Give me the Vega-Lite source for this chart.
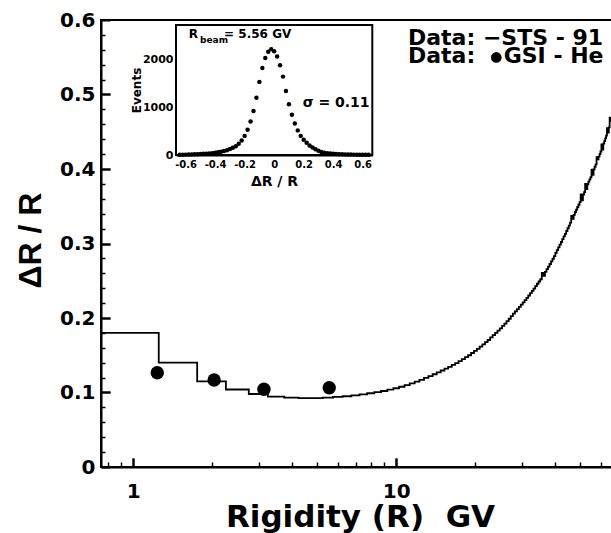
{
  "$schema": "https://vega.github.io/schema/vega-lite/v6.json",
  "width": 511,
  "height": 447,
  "autosize": {"type": "none"},
  "padding": {"left": 101, "top": 20, "right": 0, "bottom": 66},
  "background": "white",
  "config": {
    "view": {"stroke": "black", "strokeWidth": 2},
    "axis": {
      "grid": false,
      "domainColor": "black",
      "domainWidth": 2,
      "tickColor": "black",
      "tickWidth": 2,
      "labelColor": "black",
      "titleColor": "black",
      "labelFont": "DejaVu Sans",
      "labelFontWeight": "bold",
      "titleFont": "DejaVu Sans",
      "titleFontWeight": "bold",
      "labelFlush": false,
      "labelOverlap": false,
      "labelBound": false,
      "zindex": 1
    }
  },
  "layer": [
    {
      "layer": [
        {
          "data": {"values": [
            {"r":0.75,"v":0.18},{"r":1.25,"v":0.14},{"r":1.75,"v":0.115},{"r":2.25,"v":0.104},{"r":2.75,"v":0.098},
            {"r":3.25,"v":0.0945},{"r":3.75,"v":0.093},{"r":4.25,"v":0.0925},{"r":4.75,"v":0.0925},{"r":5.25,"v":0.093},
            {"r":5.75,"v":0.094},{"r":6.25,"v":0.095},{"r":6.75,"v":0.0962},{"r":7.25,"v":0.0975},{"r":7.75,"v":0.099},
            {"r":8.25,"v":0.1005},{"r":8.75,"v":0.102},{"r":9.25,"v":0.1038},{"r":9.75,"v":0.1057},{"r":10.25,"v":0.1077},
            {"r":10.75,"v":0.110},{"r":11.25,"v":0.1122},{"r":11.75,"v":0.1145},{"r":12.25,"v":0.117},{"r":12.75,"v":0.1195},
            {"r":13.25,"v":0.122},{"r":13.75,"v":0.1245},{"r":14.25,"v":0.127},{"r":14.75,"v":0.1295},{"r":15.25,"v":0.132},
            {"r":15.75,"v":0.1345},{"r":16.25,"v":0.137},{"r":16.75,"v":0.1395},{"r":17.25,"v":0.142},{"r":17.75,"v":0.1448},
            {"r":18.25,"v":0.1475},{"r":18.75,"v":0.150},{"r":19.25,"v":0.153},{"r":19.75,"v":0.1558},{"r":20.25,"v":0.1585},
            {"r":20.75,"v":0.1615},{"r":21.25,"v":0.1645},{"r":21.75,"v":0.1675},{"r":22.25,"v":0.1705},{"r":22.75,"v":0.174},
            {"r":23.25,"v":0.177},{"r":23.75,"v":0.180},{"r":24.25,"v":0.183},{"r":24.75,"v":0.1862},{"r":25.25,"v":0.1895},
            {"r":25.75,"v":0.1925},{"r":26.25,"v":0.1958},{"r":26.75,"v":0.199},{"r":27.25,"v":0.2025},{"r":27.75,"v":0.206},
            {"r":28.25,"v":0.209},{"r":28.75,"v":0.212},{"r":29.25,"v":0.215},{"r":29.75,"v":0.218},{"r":30.25,"v":0.221},
            {"r":30.75,"v":0.224},{"r":31.25,"v":0.227},{"r":31.75,"v":0.2302},{"r":32.25,"v":0.2333},{"r":32.75,"v":0.2365},
            {"r":33.25,"v":0.2395},{"r":33.75,"v":0.2428},{"r":34.25,"v":0.246},{"r":34.75,"v":0.249},{"r":35.25,"v":0.252},
            {"r":35.75,"v":0.2605},{"r":36.25,"v":0.2565},{"r":36.75,"v":0.262},{"r":37.25,"v":0.2655},{"r":37.75,"v":0.269},
            {"r":38.25,"v":0.2725},{"r":38.75,"v":0.276},{"r":39.25,"v":0.2795},{"r":39.75,"v":0.283},{"r":40.25,"v":0.2875},
            {"r":40.75,"v":0.291},{"r":41.25,"v":0.2948},{"r":41.75,"v":0.2985},{"r":42.25,"v":0.302},{"r":42.75,"v":0.306},
            {"r":43.25,"v":0.3095},{"r":43.75,"v":0.313},{"r":44.25,"v":0.3168},{"r":44.75,"v":0.3205},{"r":45.25,"v":0.324},
            {"r":45.75,"v":0.328},{"r":46.25,"v":0.337},{"r":46.75,"v":0.333},{"r":47.25,"v":0.3385},{"r":47.75,"v":0.342},
            {"r":48.25,"v":0.3455},{"r":48.75,"v":0.349},{"r":49.25,"v":0.352},{"r":49.75,"v":0.3555},{"r":50.25,"v":0.366},
            {"r":50.75,"v":0.358},{"r":51.25,"v":0.3655},{"r":51.75,"v":0.369},{"r":52.25,"v":0.380},{"r":52.75,"v":0.373},
            {"r":53.25,"v":0.3795},{"r":53.75,"v":0.383},{"r":54.25,"v":0.386},{"r":54.75,"v":0.389},{"r":55.25,"v":0.399},
            {"r":55.75,"v":0.392},{"r":56.25,"v":0.3995},{"r":56.75,"v":0.403},{"r":57.25,"v":0.4063},{"r":57.75,"v":0.416},
            {"r":58.25,"v":0.413},{"r":58.75,"v":0.4165},{"r":59.25,"v":0.42},{"r":59.75,"v":0.4235},{"r":60.25,"v":0.433},
            {"r":60.75,"v":0.426},{"r":61.25,"v":0.434},{"r":61.75,"v":0.4375},{"r":62.25,"v":0.441},{"r":62.75,"v":0.4448},
            {"r":63.25,"v":0.455},{"r":63.75,"v":0.449},{"r":64.25,"v":0.456},{"r":64.75,"v":0.469},{"r":65.25,"v":0.464},
            {"r":65.75,"v":0.468},{"r":66.25,"v":0.468}
          ]},
          "mark": {"type": "line", "interpolate": "step-after", "color": "black", "strokeWidth": 1.8, "clip": true},
          "encoding": {
            "x": {
              "field": "r", "type": "quantitative",
              "scale": {"type": "log", "domain": [0.754, 66.1]},
              "axis": {
                "orient": "bottom",
                "values": [1, 10],
                "labelExpr": "datum.value == 1 ? '1' : '10'",
                "tickSize": -9,
                "labelFontSize": 20,
                "labelPadding": 23,
                "title": "Rigidity (R)\u00a0\u00a0GV",
                "titleFontSize": 31,
                "titleBaseline": "alphabetic",
                "titleAlign": "center",
                "titleX": 259,
                "titleY": 59
              }
            },
            "y": {
              "field": "v", "type": "quantitative",
              "scale": {"domain": [0, 0.6]},
              "axis": {
                "orient": "left",
                "values": [0, 0.1, 0.2, 0.3, 0.4, 0.5, 0.6],
                "labelExpr": "datum.value == 0 ? '0' : format(datum.value, '.1f')",
                "tickSize": -9,
                "labelFontSize": 20,
                "labelPadding": 15,
                "title": "ΔR / R",
                "titleFont": "Liberation Sans",
                "titleFontSize": 32,
                "titleAngle": -90,
                "titleBaseline": "alphabetic",
                "titleAlign": "center",
                "titleX": -61,
                "titleY": 220
              }
            }
          }
        },
        {
          "data": {"values": [
            {"r": 1.234, "v": 0.1266},
            {"r": 2.03, "v": 0.1168},
            {"r": 3.14, "v": 0.1043},
            {"r": 5.56, "v": 0.1064}
          ]},
          "mark": {"type": "point", "shape": "circle", "filled": true, "size": 180, "color": "black", "opacity": 1},
          "encoding": {
            "x": {"field": "r", "type": "quantitative", "scale": {"type": "log", "domain": [0.754, 66.1]}},
            "y": {"field": "v", "type": "quantitative", "scale": {"domain": [0, 0.6]}}
          }
        },
        {
          "data": {"values": [
            {"r": 11.08, "v": 0.5664, "t": "Data: −STS - 91"},
            {"r": 11.08, "v": 0.5418, "t": "Data:"},
            {"r": 25.6, "v": 0.5418, "t": "GSI - He"}
          ]},
          "mark": {"type": "text", "align": "left", "baseline": "alphabetic", "font": "DejaVu Sans", "fontWeight": "bold", "fontSize": 22, "color": "black"},
          "encoding": {
            "x": {"field": "r", "type": "quantitative", "scale": {"type": "log", "domain": [0.754, 66.1]}},
            "y": {"field": "v", "type": "quantitative", "scale": {"domain": [0, 0.6]}},
            "text": {"field": "t"}
          }
        },
        {
          "data": {"values": [{"r": 24.0, "v": 0.5497}]},
          "mark": {"type": "point", "shape": "circle", "filled": true, "size": 115, "color": "black", "opacity": 1},
          "encoding": {
            "x": {"field": "r", "type": "quantitative", "scale": {"type": "log", "domain": [0.754, 66.1]}},
            "y": {"field": "v", "type": "quantitative", "scale": {"domain": [0, 0.6]}}
          }
        }
      ]
    },
    {
      "data": {"values": [{"r": 1, "v": 0.1}]},
      "mark": {"type": "point", "opacity": 0},
      "encoding": {
        "x": {
          "field": "r", "type": "quantitative",
          "scale": {"type": "log", "domain": [0.754, 66.1]},
          "axis": {"orient": "top", "offset": -447, "values": [0.8, 0.9, 2, 3, 4, 5, 6, 7, 8, 9, 20, 30, 40, 50, 60], "labels": false, "domain": false, "tickSize": 5, "tickWidth": 1.5, "title": null}
        },
        "y": {
          "field": "v", "type": "quantitative",
          "scale": {"domain": [0, 0.6]},
          "axis": {"orient": "right", "offset": -511, "values": [0.02,0.04,0.06,0.08,0.12,0.14,0.16,0.18,0.22,0.24,0.26,0.28,0.32,0.34,0.36,0.38,0.42,0.44,0.46,0.48,0.52,0.54,0.56,0.58], "labels": false, "domain": false, "tickSize": 4, "tickWidth": 1.5, "title": null}
        }
      }
    },
    {
      "data": {"values": [{"r": 1, "v": 0.1}]},
      "mark": {"type": "point", "opacity": 0},
      "encoding": {
        "x": {
          "field": "r", "type": "quantitative",
          "scale": {"type": "log", "domain": [0.754, 66.1]},
          "axis": {"orient": "top", "offset": -447, "values": [1, 10], "labels": false, "domain": false, "tickSize": 9, "title": null}
        },
        "y": {
          "field": "v", "type": "quantitative",
          "scale": {"domain": [0, 0.6]},
          "axis": {"orient": "right", "offset": -511, "values": [0.1, 0.2, 0.3, 0.4, 0.5], "labels": false, "domain": false, "tickSize": 9, "title": null}
        }
      }
    },
    {
      "layer": [
        {
          "data": {"values": [{"x0": -0.665, "x1": 0.665, "y0": 0, "y1": 2720}]},
          "mark": {"type": "rect", "fill": "white", "stroke": "black", "strokeWidth": 2},
          "encoding": {
            "x": {
              "field": "x0", "type": "quantitative",
              "scale": {"domain": [-0.665, 0.665], "range": [75, 271.3]},
              "axis": {
                "orient": "bottom",
                "offset": -312,
                "values": [-0.6, -0.4, -0.2, 0, 0.2, 0.4, 0.6],
                "labelExpr": "datum.value == 0 ? '0' : (datum.value < 0 ? '-' : '') + format(abs(datum.value), '.1f')",
                "tickSize": -5,
                "tickWidth": 1,
                "labelFontSize": 10,
                "labelPadding": 9,
                "title": "ΔR / R",
                "titleFontSize": 14,
                "titleBaseline": "alphabetic",
                "titleAlign": "center",
                "titleX": 173,
                "titleY": 30
              }
            },
            "x2": {"field": "x1"},
            "y": {
              "field": "y0", "type": "quantitative",
              "scale": {"domain": [0, 2720], "range": [135, 5]},
              "axis": {
                "orient": "left",
                "offset": -75,
                "values": [0, 1000, 2000],
                "labelExpr": "format(datum.value, 'd')",
                "tickSize": -6,
                "tickWidth": 1,
                "labelFontSize": 11,
                "labelPadding": 9,
                "title": "Events",
                "titleFontSize": 12,
                "titleAngle": -90,
                "titleBaseline": "alphabetic",
                "titleAlign": "center",
                "titleX": -36,
                "titleY": 70
              }
            },
            "y2": {"field": "y1"}
          }
        },
        {
          "data": {"values": [
            {"d":-0.64,"n":5},{"d":-0.62,"n":6},{"d":-0.60,"n":8},{"d":-0.58,"n":10},{"d":-0.56,"n":12},{"d":-0.54,"n":15},
            {"d":-0.52,"n":18},{"d":-0.50,"n":21},{"d":-0.48,"n":25},{"d":-0.46,"n":29},{"d":-0.44,"n":33},{"d":-0.42,"n":39},
            {"d":-0.40,"n":47},{"d":-0.38,"n":57},{"d":-0.36,"n":68},{"d":-0.34,"n":82},{"d":-0.32,"n":100},{"d":-0.30,"n":125},
            {"d":-0.28,"n":150},{"d":-0.26,"n":185},{"d":-0.24,"n":235},{"d":-0.22,"n":305},{"d":-0.20,"n":400},{"d":-0.18,"n":530},
            {"d":-0.16,"n":700},{"d":-0.14,"n":920},{"d":-0.12,"n":1200},{"d":-0.10,"n":1530},{"d":-0.08,"n":1820},{"d":-0.06,"n":2030},
            {"d":-0.04,"n":2160},{"d":-0.02,"n":2215},{"d":0.00,"n":2170},{"d":0.02,"n":2060},{"d":0.04,"n":1880},{"d":0.06,"n":1640},
            {"d":0.08,"n":1340},{"d":0.10,"n":1060},{"d":0.12,"n":840},{"d":0.14,"n":660},{"d":0.16,"n":515},{"d":0.18,"n":400},
            {"d":0.20,"n":320},{"d":0.22,"n":255},{"d":0.24,"n":200},{"d":0.26,"n":155},{"d":0.28,"n":118},{"d":0.30,"n":88},
            {"d":0.32,"n":64},{"d":0.34,"n":48},{"d":0.36,"n":38},{"d":0.38,"n":30},{"d":0.40,"n":25},{"d":0.42,"n":21},
            {"d":0.44,"n":18},{"d":0.46,"n":15},{"d":0.48,"n":13},{"d":0.50,"n":11},{"d":0.52,"n":9},{"d":0.54,"n":8},
            {"d":0.56,"n":7},{"d":0.58,"n":6},{"d":0.60,"n":5},{"d":0.62,"n":4},{"d":0.64,"n":3}
          ]},
          "mark": {"type": "point", "shape": "circle", "filled": true, "size": 20, "color": "black", "opacity": 1},
          "encoding": {
            "x": {"field": "d", "type": "quantitative", "scale": {"domain": [-0.665, 0.665], "range": [75, 271.3]}},
            "y": {"field": "n", "type": "quantitative", "scale": {"domain": [0, 2720], "range": [135, 5]}}
          }
        },
        {
          "data": {"values": [{"d": -0.578, "n": 2441, "t": "R"}]},
          "mark": {"type": "text", "align": "left", "baseline": "alphabetic", "font": "DejaVu Sans", "fontWeight": "bold", "fontSize": 12, "color": "black"},
          "encoding": {
            "x": {"field": "d", "type": "quantitative", "scale": {"domain": [-0.665, 0.665], "range": [75, 271.3]}},
            "y": {"field": "n", "type": "quantitative", "scale": {"domain": [0, 2720], "range": [135, 5]}},
            "text": {"field": "t"}
          }
        },
        {
          "data": {"values": [{"d": -0.502, "n": 2336, "t": "beam"}]},
          "mark": {"type": "text", "align": "left", "baseline": "alphabetic", "font": "DejaVu Sans", "fontWeight": "bold", "fontSize": 9, "color": "black"},
          "encoding": {
            "x": {"field": "d", "type": "quantitative", "scale": {"domain": [-0.665, 0.665], "range": [75, 271.3]}},
            "y": {"field": "n", "type": "quantitative", "scale": {"domain": [0, 2720], "range": [135, 5]}},
            "text": {"field": "t"}
          }
        },
        {
          "data": {"values": [{"d": -0.339, "n": 2441, "t": "= 5.56 GV"}]},
          "mark": {"type": "text", "align": "left", "baseline": "alphabetic", "font": "DejaVu Sans", "fontWeight": "bold", "fontSize": 12, "color": "black"},
          "encoding": {
            "x": {"field": "d", "type": "quantitative", "scale": {"domain": [-0.665, 0.665], "range": [75, 271.3]}},
            "y": {"field": "n", "type": "quantitative", "scale": {"domain": [0, 2720], "range": [135, 5]}},
            "text": {"field": "t"}
          }
        },
        {
          "data": {"values": [{"d": 0.193, "n": 1010, "t": "σ = 0.11"}]},
          "mark": {"type": "text", "align": "left", "baseline": "alphabetic", "font": "DejaVu Sans", "fontWeight": "bold", "fontSize": 14, "color": "black"},
          "encoding": {
            "x": {"field": "d", "type": "quantitative", "scale": {"domain": [-0.665, 0.665], "range": [75, 271.3]}},
            "y": {"field": "n", "type": "quantitative", "scale": {"domain": [0, 2720], "range": [135, 5]}},
            "text": {"field": "t"}
          }
        }
      ]
    },
    {
      "data": {"values": [{"d": 0, "n": 0}]},
      "mark": {"type": "point", "opacity": 0},
      "encoding": {
        "x": {
          "field": "d", "type": "quantitative",
          "scale": {"domain": [-0.665, 0.665], "range": [75, 271.3]},
          "axis": {"orient": "top", "offset": -135, "values": [-0.5, -0.3, -0.1, 0.1, 0.3, 0.5], "labels": false, "domain": false, "tickSize": 3, "tickWidth": 1, "title": null}
        },
        "y": {
          "field": "n", "type": "quantitative",
          "scale": {"domain": [0, 2720], "range": [135, 5]},
          "axis": {"orient": "right", "offset": -436, "values": [250, 500, 750, 1250, 1500, 1750, 2250, 2500], "labels": false, "domain": false, "tickSize": 3, "tickWidth": 1, "title": null}
        }
      }
    },
    {
      "data": {"values": [{"d": 0, "n": 0}]},
      "mark": {"type": "point", "opacity": 0},
      "encoding": {
        "x": {
          "field": "d", "type": "quantitative",
          "scale": {"domain": [-0.665, 0.665], "range": [75, 271.3]},
          "axis": {"orient": "top", "offset": -135, "values": [-0.6, -0.4, -0.2, 0, 0.2, 0.4, 0.6], "labels": false, "domain": false, "tickSize": 5, "tickWidth": 1, "title": null}
        },
        "y": {
          "field": "n", "type": "quantitative",
          "scale": {"domain": [0, 2720], "range": [135, 5]},
          "axis": {"orient": "right", "offset": -436, "values": [0, 1000, 2000], "labels": false, "domain": false, "tickSize": 6, "tickWidth": 1, "title": null}
        }
      }
    }
  ],
  "resolve": {
    "scale": {"x": "independent", "y": "independent"},
    "axis": {"x": "independent", "y": "independent"}
  }
}
